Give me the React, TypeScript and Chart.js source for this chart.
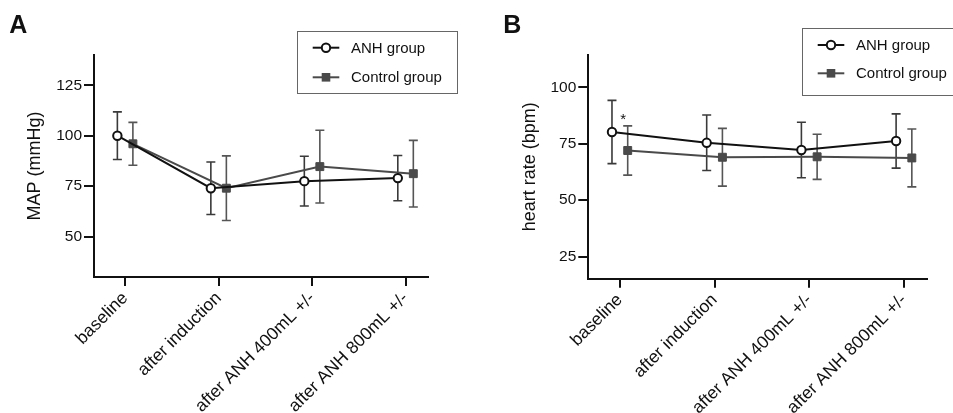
import React, { useEffect, useRef } from 'react';
import { Chart, registerables } from 'chart.js';

Chart.register(...registerables);

const FONT = "'Liberation Sans', Arial, Helvetica, sans-serif";

const CATEGORIES = ['baseline', 'after induction', 'after ANH 400mL +/-', 'after ANH 800mL +/-'];
const SERIES_NAMES = ['ANH group', 'Control group'];

// Panel A: mean arterial pressure (mmHg), mean and SD
const MAP_ANH_MEAN = [100, 74, 77.5, 79];
const MAP_ANH_SD = [11.8, 13, 12.3, 11.2];
const MAP_CTRL_MEAN = [96, 74, 84.7, 81.2];
const MAP_CTRL_SD = [10.6, 16, 18, 16.5];
const MAP_TICKS = [50, 75, 100, 125];

// Panel B: heart rate (bpm), mean and SD
const HR_ANH_MEAN = [80.2, 75.4, 72.2, 76.2];
const HR_ANH_SD = [14, 12.3, 12.3, 12];
const HR_CTRL_MEAN = [72, 69, 69.2, 68.7];
const HR_CTRL_SD = [10.9, 12.8, 10, 12.8];
const HR_TICKS = [25, 50, 75, 100];
const HR_SIG = [{ index: 0, value: 87, text: '*' }];

const ANH_COLOR = '#111111';
const CTRL_COLOR = '#4a4a4a';
const X_SHIFT = 0.083;

type Panel = {
  letter: string;
  letterX: number;
  letterY: number;
  left: number;
  width: number;
  title: string;
  titlePad: number;
  yMin: number;
  yMax: number;
  yTicks: number[];
  yAxisWidth: number;
  xAxisHeight: number;
  padRight: number;
  padTop: number;
  anhMean: number[];
  anhSd: number[];
  ctrlMean: number[];
  ctrlSd: number[];
  sig: { index: number; value: number; text: string }[];
  legend: { x: number; y: number; w: number; h: number; rows: number[]; lx0: number; lx1: number; tx: number };
};

const PANELS: Panel[] = [
  {
    letter: 'A', letterX: 9.3, letterY: 32.7, left: 0, width: 476,
    title: 'MAP (mmHg)', titlePad: 24,
    yMin: 30, yMax: 140, yTicks: MAP_TICKS,
    yAxisWidth: 94, xAxisHeight: 136, padRight: 48, padTop: 55,
    anhMean: MAP_ANH_MEAN, anhSd: MAP_ANH_SD, ctrlMean: MAP_CTRL_MEAN, ctrlSd: MAP_CTRL_SD,
    sig: [],
    legend: { x: 297.5, y: 31.5, w: 160, h: 62, rows: [47.7, 77.3], lx0: 312.7, lx1: 339.3, tx: 351 },
  },
  {
    letter: 'B', letterX: 27.3, letterY: 33.3, left: 476, width: 477,
    title: 'heart rate (bpm)', titlePad: 43.7,
    yMin: 15.2, yMax: 114.3, yTicks: HR_TICKS,
    yAxisWidth: 112.3, xAxisHeight: 134.3, padRight: 26.3, padTop: 55,
    anhMean: HR_ANH_MEAN, anhSd: HR_ANH_SD, ctrlMean: HR_CTRL_MEAN, ctrlSd: HR_CTRL_SD,
    sig: HR_SIG,
    legend: { x: 326.5, y: 28.5, w: 172, h: 67, rows: [45, 73.3], lx0: 341.7, lx1: 368.3, tx: 380 },
  },
];

function drawCircle(ctx: CanvasRenderingContext2D, x: number, y: number) {
  ctx.beginPath();
  ctx.arc(x, y, 4.2, 0, Math.PI * 2);
  ctx.fillStyle = '#ffffff';
  ctx.fill();
  ctx.lineWidth = 2;
  ctx.strokeStyle = ANH_COLOR;
  ctx.stroke();
}

function drawSquare(ctx: CanvasRenderingContext2D, x: number, y: number) {
  ctx.fillStyle = CTRL_COLOR;
  ctx.fillRect(x - 4.3, y - 4.3, 8.6, 8.6);
}

function makeChart(canvas: HTMLCanvasElement, p: Panel) {
  const errorBars = {
    id: 'errorBars',
    beforeDatasetsDraw(chart: any) {
      const ctx = chart.ctx;
      const ys = chart.scales.y;
      chart.data.datasets.forEach((ds: any, di: number) => {
        const meta = chart.getDatasetMeta(di);
        ctx.save();
        ctx.strokeStyle = ds.errColor;
        ctx.lineWidth = 1.6;
        meta.data.forEach((el: any, i: number) => {
          const m = ds.data[i].y;
          const sd = ds.sd[i];
          const yt = ys.getPixelForValue(m + sd);
          const yb = ys.getPixelForValue(m - sd);
          const x = el.x;
          ctx.beginPath();
          ctx.moveTo(x, yt);
          ctx.lineTo(x, yb);
          ctx.moveTo(x - 4.5, yt);
          ctx.lineTo(x + 4.5, yt);
          ctx.moveTo(x - 4.5, yb);
          ctx.lineTo(x + 4.5, yb);
          ctx.stroke();
        });
        ctx.restore();
      });
    },
  };

  const decorations = {
    id: 'decorations',
    afterDraw(chart: any) {
      const ctx = chart.ctx;
      ctx.save();
      // panel letter
      ctx.fillStyle = '#111';
      ctx.font = `bold 25px ${FONT}`;
      ctx.textAlign = 'left';
      ctx.textBaseline = 'alphabetic';
      ctx.fillText(p.letter, p.letterX, p.letterY);

      // legend
      const L = p.legend;
      ctx.strokeStyle = '#666';
      ctx.lineWidth = 1;
      ctx.strokeRect(L.x, L.y, L.w, L.h);
      const colors = [ANH_COLOR, CTRL_COLOR];
      SERIES_NAMES.forEach((name, i) => {
        const y = L.rows[i];
        ctx.strokeStyle = colors[i];
        ctx.lineWidth = 2;
        ctx.beginPath();
        ctx.moveTo(L.lx0, y);
        ctx.lineTo(L.lx1, y);
        ctx.stroke();
        const cx = (L.lx0 + L.lx1) / 2;
        if (i === 0) drawCircle(ctx, cx, y);
        else drawSquare(ctx, cx, y);
        ctx.fillStyle = '#111';
        ctx.font = `15px ${FONT}`;
        ctx.textBaseline = 'middle';
        ctx.fillText(name, L.tx, y + 1);
      });

      // significance marks
      const xs = chart.scales.x;
      const ys = chart.scales.y;
      p.sig.forEach((s) => {
        ctx.fillStyle = '#111';
        ctx.font = `15px ${FONT}`;
        ctx.textAlign = 'center';
        ctx.textBaseline = 'middle';
        ctx.fillText(s.text, xs.getPixelForValue(s.index + 0.035), ys.getPixelForValue(s.value) + 3.5);
      });
      ctx.restore();
    },
  };

  return new Chart(canvas, {
    type: 'line',
    data: {
      datasets: [
        {
          label: SERIES_NAMES[0],
          data: p.anhMean.map((v, i) => ({ x: i - X_SHIFT, y: v })),
          sd: p.anhSd,
          errColor: '#3a3a3a',
          borderColor: ANH_COLOR,
          borderWidth: 2,
          pointStyle: 'circle',
          pointRadius: 4.2,
          pointBorderWidth: 2,
          pointBackgroundColor: '#ffffff',
          pointBorderColor: ANH_COLOR,
          tension: 0,
          order: 1,
        } as any,
        {
          label: SERIES_NAMES[1],
          data: p.ctrlMean.map((v, i) => ({ x: i + X_SHIFT, y: v })),
          sd: p.ctrlSd,
          errColor: '#555555',
          borderColor: CTRL_COLOR,
          borderWidth: 2,
          pointStyle: 'rect',
          pointRadius: 5.6,
          pointBorderWidth: 1,
          pointBackgroundColor: CTRL_COLOR,
          pointBorderColor: CTRL_COLOR,
          tension: 0,
          order: 2,
        } as any,
      ],
    },
    options: {
      animation: false,
      responsive: false,
      maintainAspectRatio: false,
      devicePixelRatio: 1,
      layout: { padding: { left: 0, top: p.padTop, right: p.padRight, bottom: 0 } },
      plugins: { legend: { display: false }, tooltip: { enabled: false } },
      scales: {
        x: {
          type: 'linear',
          min: -0.333,
          max: 3.24,
          afterBuildTicks: (scale: any) => {
            scale.ticks = CATEGORIES.map((_, i) => ({ value: i }));
          },
          afterFit: (scale: any) => {
            scale.height = p.xAxisHeight;
          },
          ticks: {
            autoSkip: false,
            maxRotation: 45,
            minRotation: 45,
            padding: 2,
            color: '#111',
            font: { family: FONT, size: 17.5 },
            callback: (v: any) => CATEGORIES[Math.round(Number(v))] ?? '',
          },
          grid: { display: true, drawOnChartArea: false, drawTicks: true, tickLength: 9, color: '#111', lineWidth: 2 },
          border: { display: true, color: '#111', width: 2 },
        },
        y: {
          type: 'linear',
          min: p.yMin,
          max: p.yMax,
          afterBuildTicks: (scale: any) => {
            scale.ticks = p.yTicks.map((v) => ({ value: v }));
          },
          afterFit: (scale: any) => {
            scale.width = p.yAxisWidth;
          },
          ticks: {
            padding: 2,
            color: '#111',
            font: { family: FONT, size: 15.5 },
            callback: (v: any) => String(v),
          },
          grid: { display: true, drawOnChartArea: false, drawTicks: true, tickLength: 10, color: '#111', lineWidth: 2 },
          border: { display: true, color: '#111', width: 2 },
          title: {
            display: true,
            text: p.title,
            color: '#111',
            font: { family: FONT, size: 18 },
            padding: { top: p.titlePad, bottom: 0 },
          },
        },
      },
    },
    plugins: [errorBars, decorations],
  } as any);
}

function PanelChart({ p }: { p: Panel }) {
  const ref = useRef<HTMLCanvasElement | null>(null);
  useEffect(() => {
    if (!ref.current) return;
    const chart = makeChart(ref.current, p);
    return () => chart.destroy();
  }, [p]);
  return (
    <canvas
      ref={ref}
      width={p.width}
      height={413}
      style={{ position: 'absolute', left: p.left, top: 0, width: p.width, height: 413 }}
    />
  );
}

export default function App() {
  return (
    <div style={{ position: 'absolute', left: 0, top: 0, width: 953, height: 413, background: '#ffffff', overflow: 'hidden' }}>
      {PANELS.map((p) => (
        <PanelChart key={p.letter} p={p} />
      ))}
    </div>
  );
}
